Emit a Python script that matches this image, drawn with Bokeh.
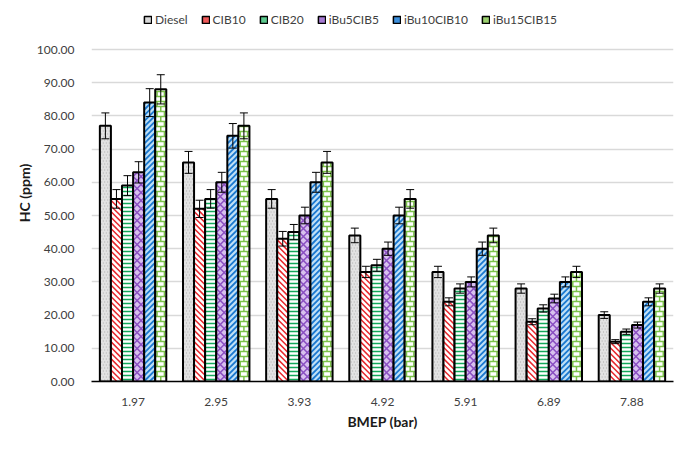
from bokeh.plotting import figure
from bokeh.models import (Range1d, ColumnDataSource, Legend, LegendItem,
                          NumeralTickFormatter, FixedTicker)
from bokeh.embed import file_html
from bokeh.resources import INLINE

bmep = ["1.97", "2.95", "3.93", "4.92", "5.91", "6.89", "7.88"]
series = ["Diesel", "CIB10", "CIB20", "iBu5CIB5", "iBu10CIB10", "iBu15CIB15"]
yticks = [0, 10, 20, 30, 40, 50, 60, 70, 80, 90, 100]

diesel = [77, 66, 55, 44, 33, 28, 20]
cib10 = [55, 52, 43, 33, 24, 18, 12]
cib20 = [59, 55, 45, 35, 28, 22, 15]
ibu5 = [63, 60, 50, 40, 30, 25, 17]
ibu10 = [84, 74, 60, 50, 40, 30, 24]
ibu15 = [88, 77, 66, 55, 44, 33, 28]

err_diesel = [3.9, 3.3, 2.8, 2.2, 1.7, 1.4, 1.0]
err_cib10 = [2.8, 2.6, 2.2, 1.7, 1.2, 0.9, 0.6]
err_cib20 = [3.0, 2.8, 2.3, 1.8, 1.4, 1.1, 0.8]
err_ibu5 = [3.2, 3.0, 2.5, 2.0, 1.5, 1.3, 0.9]
err_ibu10 = [4.2, 3.7, 3.0, 2.5, 2.0, 1.5, 1.2]
err_ibu15 = [4.4, 3.9, 3.3, 2.8, 2.2, 1.7, 1.4]

values = [diesel, cib10, cib20, ibu5, ibu10, ibu15]
errors = [err_diesel, err_cib10, err_cib20, err_ibu5, err_ibu10, err_ibu15]

# style: (fill, hatch kind, hatch colour, spacing px, line width, legend fill)
styles = [
    ("#e2e2e2", "dots", "#a0a0a0", 3, 1.0, "#d9d9d9"),
    ("#ffffff", "bslash", "#e8262b", 4, 1.5, "#ef5a5a"),
    ("#ffffff", "horiz", "#12a95a", 4, 1.6, "#5cc98e"),
    ("#d7c0ee", "zigzag", "#8a4fc2", 5, 1.5, "#a77bd4"),
    ("#bfe0f7", "slash", "#1b78cf", 4, 1.8, "#3d8fdc"),
    ("#ffffff", "brick", "#7cc24a", 5, 1.5, "#9bd06f"),
]

FONT = "Lato"
TXT = "#404040"
FW = 582
PX_PER_UNIT = 3.32
EXTRA_PX = 45                      # room above 100 for the legend
YTOP = 100 + EXTRA_PX / PX_PER_UNIT
FH = int(round(YTOP * PX_PER_UNIT))
XMAX = len(bmep)
SX, SY = FW / XMAX, FH / YTOP

p = figure(frame_width=FW, frame_height=FH, x_range=Range1d(0, XMAX), y_range=Range1d(0, YTOP),
           output_backend="svg", toolbar_location=None,
           min_border_left=91, min_border_right=5, min_border_top=4, min_border_bottom=53)
p.outline_line_color = None


def hatch(x0, x1, top, kind, sp):
    w = (x1 - x0) * SX
    h = top * SY
    xs0, ys0, xs1, ys1 = [], [], [], []

    def add(a, b, c, d):
        xs0.append(x0 + a / SX); ys0.append(b / SY)
        xs1.append(x0 + c / SX); ys1.append(d / SY)

    if kind == "horiz":
        y = sp / 2
        while y < h:
            add(0, y, w, y); y += sp
    elif kind in ("slash", "bslash", "zigzag"):
        step = sp * 1.6 if kind == "zigzag" else sp * 1.414
        c = -w
        while c < h + w:
            if kind in ("slash", "zigzag"):
                xa, xb = max(0, -c), min(w, h - c)
                if xa < xb:
                    add(xa, xa + c, xb, xb + c)
            if kind in ("bslash", "zigzag"):
                xa, xb = max(0, c - h), min(w, c)
                if xa < xb:
                    add(xa, c - xa, xb, c - xb)
            c += step
    elif kind == "brick":
        y, row = 0, 0
        while y < h:
            y2 = min(h, y + sp)
            if y2 < h:
                add(0, y2, w, y2)
            for xv in ([w / 2] if row % 2 == 0 else [w / 6, 5 * w / 6]):
                add(xv, y, xv, y2)
            y = y2; row += 1
    elif kind == "dots":
        y, row = sp / 2, 0
        while y < h:
            x = sp / 2 + (row % 2) * sp / 2
            while x < w:
                add(x, y, x + 0.8, y); x += sp
            y += sp; row += 1
    return xs0, ys0, xs1, ys1


bw = 0.133
cap = 8 / SX
offsets = [-0.333, -0.2, -0.067, 0.067, 0.2, 0.333]
centers = [i + 0.5 for i in range(len(bmep))]
items = []
for name, vals, errs, st, off in zip(series, values, errors, styles, offsets):
    fill, kind, hcol, sp, lw, lfill = st
    xc = [c + off for c in centers]
    up = [v + e for v, e in zip(vals, errs)]
    lo = [v - e for v, e in zip(vals, errs)]
    src = ColumnDataSource(dict(x=xc, top=vals, upper=up, lower=lo,
                                cl=[x - cap / 2 for x in xc], cr=[x + cap / 2 for x in xc]))
    p.vbar(x="x", top="top", width=bw, source=src, fill_color=fill, line_color=None)
    a0, b0, a1, b1 = [], [], [], []
    for x, v in zip(xc, vals):
        s = hatch(x - bw / 2, x + bw / 2, v, kind, sp)
        a0 += s[0]; b0 += s[1]; a1 += s[2]; b1 += s[3]
    p.segment(x0=a0, y0=b0, x1=a1, y1=b1, line_color=hcol, line_width=lw)
    p.vbar(x="x", top="top", width=bw, source=src, fill_color=None,
           line_color="black", line_width=2)
    p.segment(x0="x", y0="lower", x1="x", y1="upper", source=src, line_color="black", line_width=1)
    p.segment(x0="cl", y0="upper", x1="cr", y1="upper", source=src, line_color="black", line_width=1)
    p.segment(x0="cl", y0="lower", x1="cr", y1="lower", source=src, line_color="black", line_width=1)
    rl = p.rect(x=[-10], y=[-10], width=0.1, height=1, fill_color=lfill,
                line_color="black", line_width=1.5)
    items.append(LegendItem(label=name, renderers=[rl]))

p.xaxis.ticker = FixedTicker(ticks=centers)
p.xaxis.major_label_overrides = {c: lab for c, lab in zip(centers, bmep)}
p.yaxis.ticker = FixedTicker(ticks=yticks)
p.yaxis.formatter = NumeralTickFormatter(format="0.00")
p.ygrid.grid_line_color = "#d9d9d9"
p.ygrid.grid_line_width = 1.5
p.xgrid.grid_line_color = None

p.yaxis.axis_line_color = None
p.yaxis.major_tick_line_color = None
p.yaxis.minor_tick_line_color = None
p.yaxis.major_label_standoff = 11
p.xaxis.axis_line_color = "black"
p.xaxis.axis_line_width = 1.5
p.xaxis.major_tick_line_color = None
p.xaxis.minor_tick_line_color = None
p.xaxis.major_label_standoff = 10

for ax in (p.xaxis, p.yaxis):
    ax.major_label_text_font = FONT
    ax.major_label_text_font_size = "12px"
    ax.major_label_text_color = TXT
    ax.axis_label_text_font = FONT
    ax.axis_label_text_font_size = "14px"
    ax.axis_label_text_font_style = "bold"
    ax.axis_label_text_color = "#1a1a1a"

p.xaxis.axis_label = "BMEP (bar)"
p.yaxis.axis_label = "HC (ppm)"
p.xaxis.axis_label_standoff = 4
p.yaxis.axis_label_standoff = 1

legend = Legend(items=items, orientation="horizontal", location=(52, FH - 23),
                label_text_font=FONT, label_text_font_size="12px", label_text_color=TXT,
                glyph_width=9, glyph_height=9, spacing=13, label_standoff=3,
                padding=2, margin=0, border_line_color=None, background_fill_alpha=0)
p.add_layout(legend, "center")

open("out.html", "w").write(file_html(p, INLINE))
